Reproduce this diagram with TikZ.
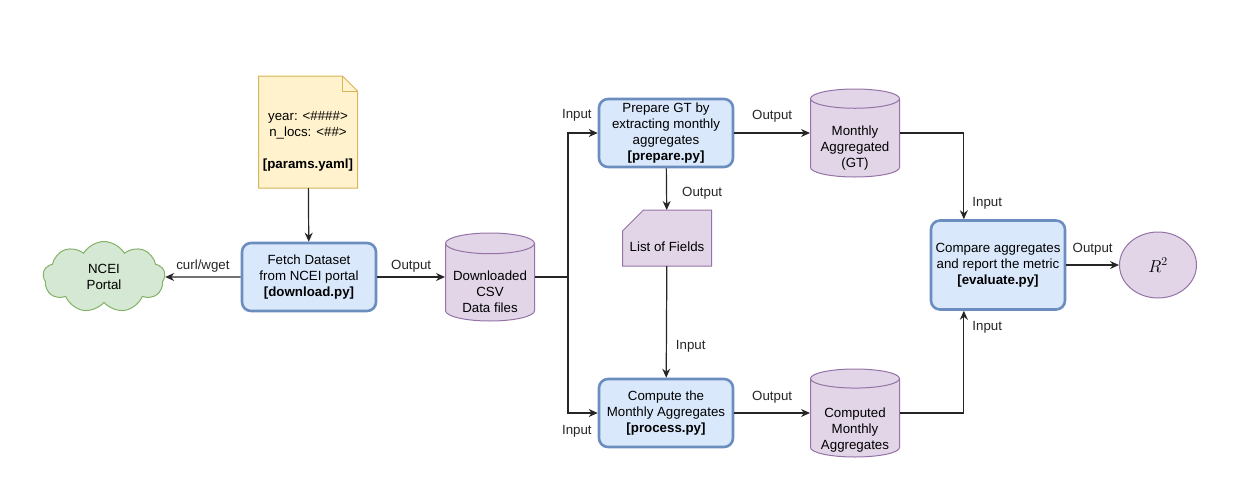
\documentclass[tikz,border=0pt]{standalone}
\usepackage{fontspec}
\setmainfont{Liberation Sans}
\usetikzlibrary{shapes.geometric,shapes.symbols,arrows.meta,calc,backgrounds}

\definecolor{procfill}{HTML}{DAE8FC}
\definecolor{procline}{HTML}{6C8EBF}
\definecolor{datafill}{HTML}{E1D5E7}
\definecolor{dataline}{HTML}{9673A6}
\definecolor{notefill}{HTML}{FFF2CC}
\definecolor{noteline}{HTML}{D6B656}
\definecolor{webfill}{HTML}{D5E8D4}
\definecolor{webline}{HTML}{82B366}

% text set lower than the middle of its shape, without growing the shape
\newcommand{\lowertext}[2]{\raisebox{-#1}[10pt][3.4pt]{\begin{tabular}{@{}c@{}}#2\end{tabular}}}

\begin{document}
\begin{tikzpicture}[x=1pt, y=-1pt, font=\fontsize{13.3}{16}\selectfont,
    procbox/.style={draw=procline, fill=procfill, line width=2.6pt,
        rounded corners=9pt, minimum width=134pt, minimum height=68pt,
        inner sep=1pt, align=center},
    datastore/.style={cylinder, shape border rotate=90, aspect=0.28,
        draw=dataline, fill=datafill, line width=1pt, anchor=shape center,
        minimum width=89pt, minimum height=88pt, inner sep=0pt},
    plainbox/.style={rectangle, inner sep=0pt, outer sep=0pt},
    link/.style={line width=1.2pt, draw=black!85, -{Stealth[length=9pt, width=8pt]}},
    lbl/.style={inner sep=1pt, text=black!85}]

    \useasboundingbox (0,0) rectangle (1259,501);

    % Parameter file (note with a folded corner)
    \node[plainbox, minimum width=99pt, minimum height=112pt] (params) at (308,132)
        {\lowertext{10pt}{year: <\#\#\#\#>\\n\_locs: <\#\#>\\[16pt]\textbf{[params.yaml]}}};
    \begin{scope}[on background layer]
        \draw[noteline, fill=notefill, line width=1pt] (params.north west)
            -- ($(params.north east)+(-15,0)$) -- ($(params.north east)+(0,15)$)
            -- (params.south east) -- (params.south west) -- cycle;
    \end{scope}
    \draw[noteline, line width=1pt] ($(params.north east)+(-15,0)$) |- ($(params.north east)+(0,15)$);

    % Data source
    \node[cloud, cloud puffs=9, cloud puff arc=120, aspect=1.7,
        draw=webline, fill=webfill, line width=1pt,
        minimum width=122pt, minimum height=71pt, inner sep=0pt, align=center]
        (ncei) at (104,277) {NCEI\\Portal};

    % Processing steps
    \node[procbox] (fetch) at (309,277) {Fetch Dataset\\from NCEI portal\\\textbf{[download.py]}};
    \node[procbox] (prepare) at (666,133) {Prepare GT by\\extracting monthly\\aggregates\\\textbf{[prepare.py]}};
    \node[procbox] (compute) at (666,413) {Compute the\\Monthly Aggregates\\\textbf{[process.py]}};
    \node[procbox, minimum height=89pt] (evaluate) at (998,265)
        {Compare aggregates\\and report the metric\\\textbf{[evaluate.py]}};

    % Data stores
    \node[datastore] (csv) at (490,277) {\lowertext{11pt}{Downloaded\\CSV\\Data files}};
    \node[datastore] (gt) at (855,133) {\lowertext{11pt}{Monthly\\Aggregated\\(GT)}};
    \node[datastore] (computed) at (855,413) {\lowertext{13pt}{Computed\\Monthly\\Aggregates}};

    % List of fields (card with a cut corner)
    \node[plainbox, minimum width=89pt, minimum height=56pt] (fields) at (667,238)
        {\lowertext{11pt}{List of Fields}};
    \begin{scope}[on background layer]
        \draw[dataline, fill=datafill, line width=1pt] ($(fields.north west)+(21,0)$)
            -- (fields.north east) -- (fields.south east) -- (fields.south west)
            -- ($(fields.north west)+(0,21)$) -- cycle;
    \end{scope}

    % Result
    \node[ellipse, draw=dataline, fill=datafill, line width=1pt,
        minimum width=77pt, minimum height=66pt, inner sep=0pt]
        (metric) at (1158,265) {\fontsize{17}{20}\selectfont$R^2$};

    % Connectors
    \draw[link] (params) -- (fetch);
    \draw[link] (fetch) -- (ncei) node[lbl, midway, above=3pt] {curl/wget};
    \draw[link] (fetch.east) -- (csv.west |- csv.shape center)
        node[lbl, midway, above=3pt] {Output};
    \draw[link] (csv.east |- csv.shape center) -- ++(33,0) coordinate (split) |- (prepare.west)
        node[lbl, pos=0.75, above=10pt, xshift=-6pt] {Input};
    \draw[link] (split) |- (compute.west)
        node[lbl, pos=0.75, below=11pt, xshift=-6pt] {Input};
    \draw[link] (prepare.east) -- (gt.west |- gt.shape center)
        node[lbl, midway, above=9pt] {Output};
    \draw[link] (prepare) -- (fields) node[lbl, pos=0.6, right=14pt] {Output};
    \draw[link] (fields) -- (compute) node[lbl, pos=0.72, right=8pt] {Input};
    \draw[link] (compute.east) -- (computed.west |- computed.shape center)
        node[lbl, midway, above=8pt] {Output};
    \draw[link] (gt.east |- gt.shape center) -| ($(evaluate.north west)!0.25!(evaluate.north east)$)
        node[lbl, pos=0.91, right=7pt] {Input};
    \draw[link] (computed.east |- computed.shape center) -| ($(evaluate.south west)!0.25!(evaluate.south east)$)
        node[lbl, pos=0.917, right=7pt] {Input};
    \draw[link] (evaluate) -- (metric) node[lbl, midway, above=8pt] {Output};

\end{tikzpicture}
\end{document}
